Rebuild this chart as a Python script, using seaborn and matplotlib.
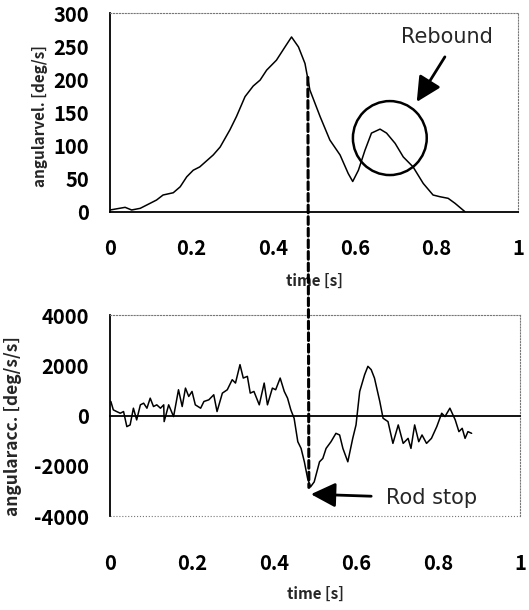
import numpy as np
import pandas as pd
import matplotlib
matplotlib.use("Agg")
import matplotlib.pyplot as plt
from matplotlib.patches import Ellipse, ConnectionPatch
import seaborn as sns

# angular velocity (top panel)
vel_t = [0.0, 0.037, 0.053, 0.074, 0.09, 0.114, 0.13, 0.155, 0.172, 0.188, 0.204, 0.22,
         0.253, 0.27, 0.294, 0.31, 0.331, 0.351, 0.368, 0.384, 0.408, 0.429, 0.445,
         0.462, 0.478, 0.49, 0.515, 0.539, 0.564, 0.584, 0.595, 0.609, 0.625, 0.641,
         0.662, 0.678, 0.699, 0.719, 0.743, 0.768, 0.792, 0.809, 0.829, 0.846, 0.87]
vel = [3, 7, 3, 5.5, 10.5, 18, 25.6, 29, 38, 53, 63, 68,
       86, 98, 124, 144, 174, 190, 199, 214, 229, 249, 264,
       249, 224, 184, 144, 108.5, 86, 58, 46, 63, 93, 119,
       125, 119, 103.5, 83, 68, 43, 25.6, 23, 20.6, 13, 0.5]

# angular acceleration (bottom panel)
acc_t = [0.002, 0.008, 0.016, 0.025, 0.033, 0.041, 0.049, 0.057, 0.065, 0.074, 0.082,
         0.09, 0.098, 0.106, 0.114, 0.123, 0.131, 0.132, 0.143, 0.155, 0.167, 0.176,
         0.184, 0.192, 0.2, 0.208, 0.221, 0.229, 0.241, 0.253, 0.261, 0.274, 0.286,
         0.298, 0.306, 0.317, 0.325, 0.335, 0.342, 0.351, 0.364, 0.376, 0.384, 0.396,
         0.404, 0.415, 0.425, 0.433, 0.441, 0.449, 0.458, 0.466, 0.474, 0.482, 0.489,
         0.498, 0.511, 0.519, 0.527, 0.539, 0.551, 0.56, 0.568, 0.58, 0.592, 0.6,
         0.609, 0.621, 0.629, 0.637, 0.645, 0.658, 0.666, 0.678, 0.69, 0.703, 0.715,
         0.727, 0.734, 0.743, 0.753, 0.761, 0.772, 0.784, 0.797, 0.809, 0.817, 0.829,
         0.842, 0.851, 0.859, 0.866, 0.873, 0.882]
acc = [560, 227, 160, 93, 160, -440, -373, 293, -173, 427, 493,
       293, 693, 360, 427, 293, 427, -240, 427, -40, 1027, 360,
       1093, 760, 960, 427, 293, 560, 627, 827, 160, 893, 1027,
       1427, 1293, 2027, 1493, 1560, 893, 960, 427, 1293, 427, 1093,
       1027, 1493, 960, 693, 227, -107, -1040, -1307, -1840, -2507, -2840,
       -2640, -1840, -1707, -1307, -1040, -707, -773, -1307, -1840, -907, -373,
       960, 1627, 1960, 1827, 1493, 560, -107, -240, -1107, -373, -1107,
       -907, -1307, -373, -1040, -773, -1107, -907, -440, 93, -40, 293,
       -173, -640, -507, -907, -640, -707]

xticks = [0, 0.2, 0.4, 0.6, 0.8, 1]
xtick_labels = ["0", "0.2", "0.4", "0.6", "0.8", "1"]
vel_ticks = [0, 50, 100, 150, 200, 250, 300]
acc_ticks = [-4000, -2000, 0, 2000, 4000]

sns.set_style("white")
plt.rcParams["font.family"] = ["Noto Sans CJK JP", "DejaVu Sans"]
plt.rcParams["font.weight"] = "bold"

fig = plt.figure(figsize=(5.29, 6.10), dpi=100)
ax1 = fig.add_axes([0.208, 0.6525, 0.771, 0.326])
ax2 = fig.add_axes([0.208, 0.154, 0.775, 0.3295])

sns.lineplot(x=vel_t, y=vel, ax=ax1, color="black", lw=1.1, estimator=None, sort=False)
sns.lineplot(x=acc_t, y=acc, ax=ax2, color="black", lw=1.1, estimator=None, sort=False)

for ax in (ax1, ax2):
    ax.set_xlim(0, 1)
    ax.set_xticks(xticks)
    ax.set_xticklabels(xtick_labels)
    for s in ("top", "right"):
        ax.spines[s].set_linestyle(":")
        ax.spines[s].set_color("#777777")
        ax.spines[s].set_linewidth(0.8)
    ax.spines["left"].set_color("black")
    ax.spines["left"].set_linewidth(1.3)
    ax.spines["bottom"].set_color("black")
    ax.spines["bottom"].set_linewidth(1.3)
    ax.tick_params(axis="both", direction="in", length=5, width=1.2, colors="black",
                   labelsize=14.5)
    ax.tick_params(axis="y", pad=15)

ax1.set_ylim(0, 300)
ax1.set_yticks(vel_ticks)
ax1.tick_params(axis="x", pad=19)
ax1.set_ylabel("angularvel. [deg/s]", fontsize=11, fontweight="bold")
ax1.yaxis.set_label_coords(-0.152, 0.48)
ax1.set_xlabel("time [s]", fontsize=11, fontweight="bold")
ax1.xaxis.set_label_coords(0.5, -0.307)

ax2.set_ylim(-4000, 4000)
ax2.set_yticks(acc_ticks)
ax2.set_yticklabels([str(v) for v in acc_ticks])
ax2.spines["bottom"].set_position(("data", 0))
ax2.axhline(-4000, color="#777777", ls=":", lw=0.8, clip_on=False)
ax2.tick_params(axis="x", pad=99)
ax2.set_ylabel("angularacc. [deg/s/s]", fontsize=12.5, fontweight="bold")
ax2.yaxis.set_label_coords(-0.215, 0.45)
ax2.set_xlabel("time [s]", fontsize=11, fontweight="bold")
ax2.xaxis.set_label_coords(0.5, -0.348)

arrow_style = dict(arrowstyle="-|>,head_length=0.6,head_width=0.3",
                   mutation_scale=25, lw=2, color="black", shrinkA=0, shrinkB=0)

# rebound circle + arrow
ax1.add_patch(Ellipse((0.686, 111.5), width=0.181, height=111.6, fill=False,
                      lw=1.8, color="black"))
ax1.text(0.826, 264, "Rebound", ha="center", va="center", fontsize=15,
         fontweight="normal", family="DejaVu Sans")
ax1.annotate("", xy=(0.752, 166), xytext=(0.821, 234), arrowprops=arrow_style)

# rod stop arrow
ax2.text(0.785, -3300, "Rod stop", ha="center", va="center", fontsize=15,
         fontweight="normal", family="DejaVu Sans")
ax2.annotate("", xy=(0.49, -3130), xytext=(0.637, -3210), arrowprops=arrow_style)

# dashed line across both panels
con = ConnectionPatch(xyA=(0.485, 203), coordsA=ax1.transData,
                      xyB=(0.485, -2860), coordsB=ax2.transData,
                      color="black", lw=2.2, linestyle=(0, (2.5, 1.3)))
fig.add_artist(con)

fig.savefig("out.png", dpi=100)
